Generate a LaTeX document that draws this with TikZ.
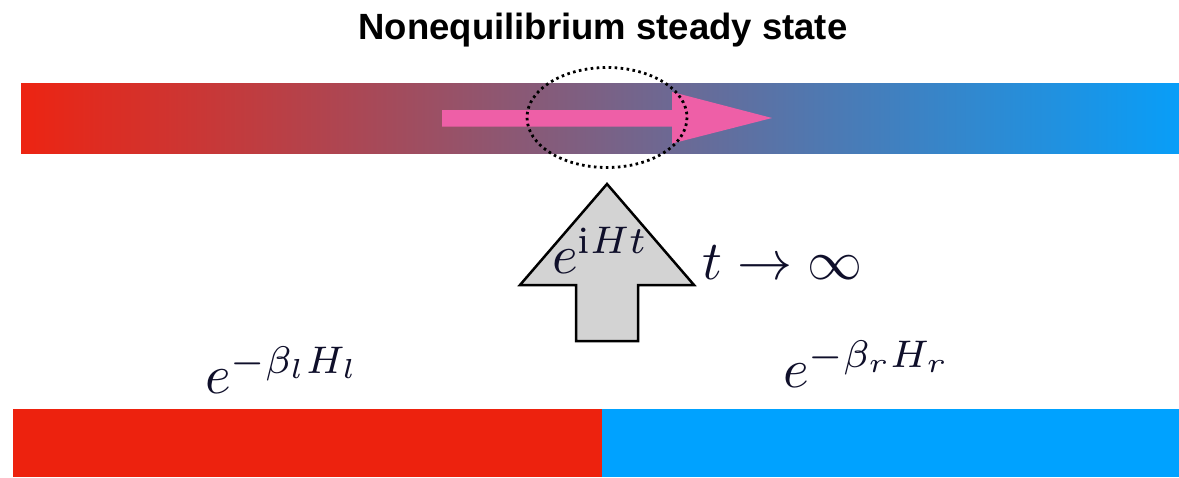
\documentclass[tikz,border=0pt]{standalone}
\usepackage{fontspec}
\newfontfamily\titlefont{Liberation Sans}
\definecolor{hotred}{RGB}{237,36,18}
\definecolor{skyblue}{RGB}{8,158,248}
\definecolor{barred}{RGB}{237,34,14}
\definecolor{barblue}{RGB}{0,162,255}
\definecolor{flowpink}{RGB}{238,95,167}
\definecolor{arrowgray}{RGB}{211,211,211}
\definecolor{mathink}{RGB}{15,15,42}
\tikzset{
  mathlabel/.style={inner sep=0pt, anchor=base west, text=mathink, scale=5.5},
  titlelabel/.style={inner sep=0pt, anchor=base, font=\titlefont\bfseries\fontsize{36.5}{42}\selectfont},
  blockarrow/.style={draw=black, line width=2.5pt, fill=arrowgray, line join=miter},
  dottedring/.style={draw=black, line width=2.8pt, dash pattern=on 2.6pt off 3.4pt}
}
\begin{document}
\begin{tikzpicture}[x=1pt,y=-1pt]
\useasboundingbox (0,0) rectangle (1179,477);
% title
\node[titlelabel] (title) at (603,39) {Nonequilibrium steady state};
% top gradient bar
\shade[left color=hotred, right color=skyblue] (21,83) rectangle (1179,153.5);
% pink flow arrow
\fill[flowpink] (442,110) -- (672,110) -- (672,92) -- (772,118) -- (672,143.5) -- (672,126.5) -- (442,126.5) -- cycle;
% dotted ellipse
\draw[dottedring] (607,117.5) ellipse [x radius=80, y radius=50];
% gray up arrow
\draw[blockarrow] (607,184) -- (694,285) -- (638,285) -- (638,341) -- (576,341) -- (576,285) -- (520,285) -- cycle;
% labels
\node[mathlabel] (evol) at (551,273) {$e^{\mathrm{i}Ht}$};
\node[mathlabel] (limit) at (701,279) {$t\rightarrow\infty$};
\node[mathlabel] (left) at (204,393) {$e^{-\beta_l H_l}$};
\node[mathlabel] (right) at (782,387) {$e^{-\beta_r H_r}$};
% bottom bars
\fill[barred] (13,409) rectangle (602,477);
\fill[barblue] (602,409) rectangle (1179,477);
\end{tikzpicture}
\end{document}
